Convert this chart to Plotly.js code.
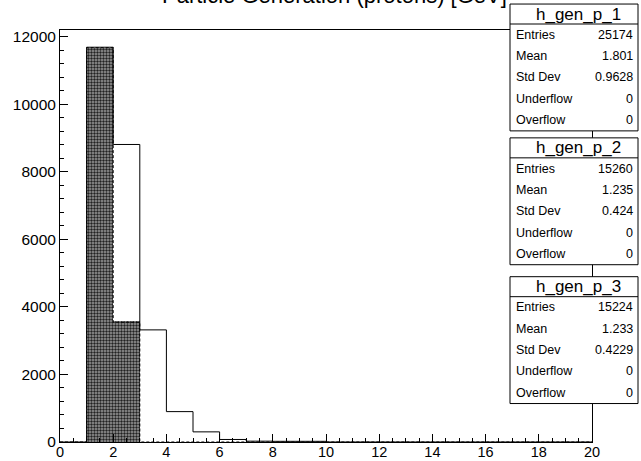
<!DOCTYPE html>
<html>
<head>
<meta charset="utf-8">
<script src="https://cdn.plot.ly/plotly-3.0.1.min.js"></script>
<style>html,body{margin:0;padding:0;background:#fff;}#chart{width:641px;height:461px;}</style>
</head>
<body>
<div id="chart"></div>
<script>
// ---- data ----
const binLow = [0,1,2,3,4,5,6,7,8,9,10,11,12,13,14,15,16,17,18,19];
const h1 = [0,11690,8810,3320,900,300,75,25,20,20,0,0,0,0,0,0,0,0,0,0];
const h2 = [0,11674,3586,0,0,0,0,0,0,0,0,0,0,0,0,0,0,0,0,0];
const h3 = [0,11677,3547,0,0,0,0,0,0,0,0,0,0,0,0,0,0,0,0,0];
const histNames = ['h_gen_p_1','h_gen_p_2','h_gen_p_3'];
const statLabels = ['Entries','Mean','Std Dev','Underflow','Overflow'];
const stats1 = ['25174','1.801','0.9628','0','0'];
const stats2 = ['15260','1.235','0.424','0','0'];
const stats3 = ['15224','1.233','0.4229','0','0'];
const titleText = 'Particle Generation (protons) [GeV]';

const FONT = 'Liberation Sans, Arial, Helvetica, sans-serif';
const xEdge = binLow.concat([20]);
function stepY(h){ return h.concat([h[h.length-1]]); }

const traces = [
  {type:'bar', x:binLow, y:h2, width:1, offset:0,
   marker:{color:'#777', line:{width:0},
     pattern:{shape:'.', fgcolor:'#222', bgcolor:'#9c9c9c', size:3, solidity:0.5, fillmode:'replace'}},
   hoverinfo:'skip', showlegend:false},
  {type:'scatter', mode:'lines', x:xEdge, y:stepY(h3), line:{shape:'hv', color:'#000', width:1, dash:'3px,2px'},
   hoverinfo:'skip', showlegend:false},
  {type:'scatter', mode:'lines', x:xEdge, y:stepY(h1), line:{shape:'hv', color:'#000', width:1},
   hoverinfo:'skip', showlegend:false}
];

const L=60, R=592, T=30, B=442.5;
const px2x = p => (p-L)/(R-L);
const px2y = p => (B-p)/(B-T);

const shapes = [];
const annotations = [];
const boxTops = [4, 138, 277];
const boxH = 127, headH = 20, bxL = 510, bxR = 638;
const allStats = [stats1, stats2, stats3];
boxTops.forEach((top, i) => {
  shapes.push({type:'rect', xref:'paper', yref:'paper', layer:'above',
    x0:px2x(bxL), x1:px2x(bxR), y0:px2y(top+boxH), y1:px2y(top),
    fillcolor:'#fff', line:{color:'#000', width:1}});
  shapes.push({type:'line', xref:'paper', yref:'paper', layer:'above',
    x0:px2x(bxL), x1:px2x(bxR), y0:px2y(top+headH), y1:px2y(top+headH),
    line:{color:'#000', width:1}});
  annotations.push({xref:'paper', yref:'paper', x:px2x((bxL+bxR)/2+4), y:px2y(top+headH/2),
    text:histNames[i], showarrow:false, xanchor:'center', yanchor:'middle',
    font:{family:FONT, size:17, color:'#000'}});
  const rowH = (boxH-headH)/5;
  statLabels.forEach((lab, j) => {
    const cy = top + headH + rowH*(j+0.5);
    annotations.push({xref:'paper', yref:'paper', x:px2x(bxL+4), y:px2y(cy), text:lab,
      showarrow:false, xanchor:'left', yanchor:'middle', font:{family:FONT, size:12.5, color:'#000'}});
    annotations.push({xref:'paper', yref:'paper', x:px2x(bxR-3), y:px2y(cy), text:allStats[i][j],
      showarrow:false, xanchor:'right', yanchor:'middle', font:{family:FONT, size:12.5, color:'#000'}});
  });
});

// title, cut at the top edge as in the reference
annotations.push({xref:'paper', yref:'paper', x:px2x(334), y:px2y(-5), text:titleText,
  showarrow:false, xanchor:'center', yanchor:'middle', font:{family:FONT, size:22, color:'#000'}});

const layout = {
  width:641, height:461,
  margin:{l:L, r:641-R, t:T, b:461-B, pad:0},
  paper_bgcolor:'#fff', plot_bgcolor:'#fff',
  barmode:'overlay', bargap:0,
  showlegend:false,
  xaxis:{range:[0,20], tick0:0, dtick:2, showgrid:false, zeroline:false,
    showline:true, mirror:true, linecolor:'#000', linewidth:1,
    ticks:'inside', ticklen:8, tickcolor:'#000', tickwidth:1, ticklabelstandoff:-3,
    minor:{dtick:0.5, ticks:'inside', ticklen:4, tickcolor:'#000', tickwidth:1, showgrid:false},
    tickfont:{family:FONT, size:14.5, color:'#000'}},
  yaxis:{range:[0,12200], tick0:0, dtick:2000, showgrid:false, zeroline:false,
    showline:true, mirror:true, linecolor:'#000', linewidth:1, tickformat:'d',
    ticks:'inside', ticklen:8, tickcolor:'#000', tickwidth:1,
    minor:{dtick:400, ticks:'inside', ticklen:4, tickcolor:'#000', tickwidth:1, showgrid:false},
    tickfont:{family:FONT, size:15.5, color:'#000'}},
  shapes:shapes,
  annotations:annotations
};

Plotly.newPlot('chart', traces, layout, {staticPlot:true, displayModeBar:false});
</script>
</body>
</html>
